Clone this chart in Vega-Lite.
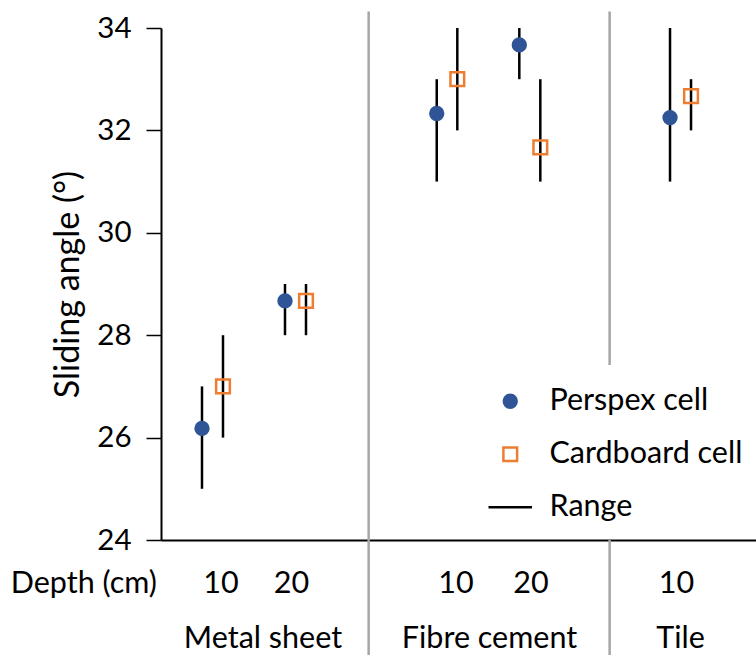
{
  "$schema": "https://vega.github.io/schema/vega-lite/v6.json",
  "width": 595,
  "height": 512,
  "autosize": {"type": "none"},
  "padding": {"left": 161, "top": 28, "right": 0, "bottom": 115},
  "config": {
    "font": "Lato",
    "view": {"stroke": null},
    "axis": {"grid": false},
    "axisX": {"labels": false, "ticks": false, "domainColor": "#000000", "domainWidth": 2},
    "axisY": {
      "domainColor": "#000000", "domainWidth": 2,
      "tickColor": "#000000", "tickWidth": 1.5, "tickSize": 15,
      "labelFontSize": 29.5, "labelColor": "#000000", "labelPadding": 15, "labelFont": "Lato"
    },
    "legend": {
      "orient": "none", "legendX": 334, "legendY": 358, "padding": 0,
      "labelFontSize": 30.5, "labelFont": "Lato", "labelColor": "#000000", "labelLimit": 0,
      "labelOffset": 24, "rowPadding": 22, "symbolStrokeWidth": 2.5
    }
  },
  "datasets": {
    "points": [
      {"material": "Metal sheet", "depth": 10, "series": "Perspex cell", "pos": 6.89, "mean": 26.18, "lo": 25, "hi": 27},
      {"material": "Metal sheet", "depth": 10, "series": "Cardboard cell", "pos": 10.42, "mean": 27.0, "lo": 26, "hi": 28},
      {"material": "Metal sheet", "depth": 20, "series": "Perspex cell", "pos": 20.84, "mean": 28.67, "lo": 28, "hi": 29},
      {"material": "Metal sheet", "depth": 20, "series": "Cardboard cell", "pos": 24.37, "mean": 28.67, "lo": 28, "hi": 29},
      {"material": "Fibre cement", "depth": 10, "series": "Perspex cell", "pos": 46.34, "mean": 32.33, "lo": 31, "hi": 33},
      {"material": "Fibre cement", "depth": 10, "series": "Cardboard cell", "pos": 49.8, "mean": 33.0, "lo": 32, "hi": 34},
      {"material": "Fibre cement", "depth": 20, "series": "Perspex cell", "pos": 60.22, "mean": 33.67, "lo": 33, "hi": 34},
      {"material": "Fibre cement", "depth": 20, "series": "Cardboard cell", "pos": 63.75, "mean": 31.67, "lo": 31, "hi": 33},
      {"material": "Tile", "depth": 10, "series": "Perspex cell", "pos": 85.55, "mean": 32.25, "lo": 31, "hi": 34},
      {"material": "Tile", "depth": 10, "series": "Cardboard cell", "pos": 89.08, "mean": 32.67, "lo": 32, "hi": 33}
    ],
    "depthLabels": [
      {"label": "10", "pos": 10.08},
      {"label": "20", "pos": 21.93},
      {"label": "10", "pos": 49.58},
      {"label": "20", "pos": 62.18},
      {"label": "10", "pos": 86.64}
    ],
    "groupLabels": [
      {"label": "Metal sheet", "pos": 17.14},
      {"label": "Fibre cement", "pos": 55.21},
      {"label": "Tile", "pos": 87.31}
    ],
    "separators": [
      {"pos": 34.9, "top": 34.32, "bottom": 21.754},
      {"pos": 75.4, "top": 34.32, "bottom": 27.42},
      {"pos": 75.4, "top": 24, "bottom": 21.754}
    ]
  },
  "layer": [
    {
      "data": {"name": "separators"},
      "mark": {"type": "rule", "color": "#A6A6A6", "strokeWidth": 2.5},
      "encoding": {
        "x": {"field": "pos", "type": "quantitative", "scale": {"domain": [0, 100], "nice": false, "zero": false}, "title": null},
        "y": {"field": "top", "type": "quantitative", "scale": {"domain": [24, 34], "nice": false, "zero": false}, "title": "Sliding angle (°)",
          "axis": {"values": [24, 26, 28, 30, 32, 34], "titleFontSize": 34, "titleFontWeight": "normal", "titleColor": "#000000", "titlePadding": 11, "titleFont": "Lato"}},
        "y2": {"field": "bottom"}
      }
    },
    {
      "data": {"name": "points"},
      "mark": {"type": "rule", "color": "#000000", "strokeWidth": 2.5},
      "encoding": {
        "x": {"field": "pos", "type": "quantitative", "title": null},
        "y": {"field": "lo", "type": "quantitative", "title": "Sliding angle (°)"},
        "y2": {"field": "hi"}
      }
    },
    {
      "data": {"name": "points"},
      "mark": {"type": "point", "strokeWidth": 2.5, "opacity": 1},
      "encoding": {
        "x": {"field": "pos", "type": "quantitative", "title": null},
        "y": {"field": "mean", "type": "quantitative", "title": "Sliding angle (°)"},
        "shape": {"field": "series", "type": "nominal", "title": null,
          "scale": {"domain": ["Perspex cell", "Cardboard cell", "Range"], "range": ["circle", "square", "M-3,0L3,0"]}},
        "stroke": {"field": "series", "type": "nominal", "title": null,
          "scale": {"domain": ["Perspex cell", "Cardboard cell", "Range"], "range": ["#2F5597", "#ED7D31", "#000000"]}},
        "fill": {"field": "series", "type": "nominal", "title": null,
          "scale": {"domain": ["Perspex cell", "Cardboard cell", "Range"], "range": ["#2F5597", "transparent", "transparent"]}},
        "size": {"field": "series", "type": "nominal", "title": null,
          "scale": {"domain": ["Perspex cell", "Cardboard cell", "Range"], "range": [165, 210, 210]}}
      }
    },
    {
      "data": {"name": "depthLabels"},
      "mark": {"type": "text", "fontSize": 30.5, "font": "Lato", "color": "#000000", "align": "center", "baseline": "alphabetic"},
      "encoding": {
        "x": {"field": "pos", "type": "quantitative", "title": null},
        "y": {"datum": 22.965, "type": "quantitative", "title": "Sliding angle (°)"},
        "text": {"field": "label"}
      }
    },
    {
      "data": {"name": "groupLabels"},
      "mark": {"type": "text", "fontSize": 30.5, "font": "Lato", "color": "#000000", "align": "center", "baseline": "alphabetic"},
      "encoding": {
        "x": {"field": "pos", "type": "quantitative", "title": null},
        "y": {"datum": 21.89, "type": "quantitative", "title": "Sliding angle (°)"},
        "text": {"field": "label"}
      }
    },
    {
      "data": {"values": [{"label": "Depth (cm)"}]},
      "mark": {"type": "text", "fontSize": 30.5, "font": "Lato", "color": "#000000", "align": "right", "baseline": "alphabetic", "dx": -4},
      "encoding": {
        "x": {"datum": 0, "type": "quantitative", "title": null},
        "y": {"datum": 22.965, "type": "quantitative", "title": "Sliding angle (°)"},
        "text": {"field": "label"}
      }
    }
  ]
}
